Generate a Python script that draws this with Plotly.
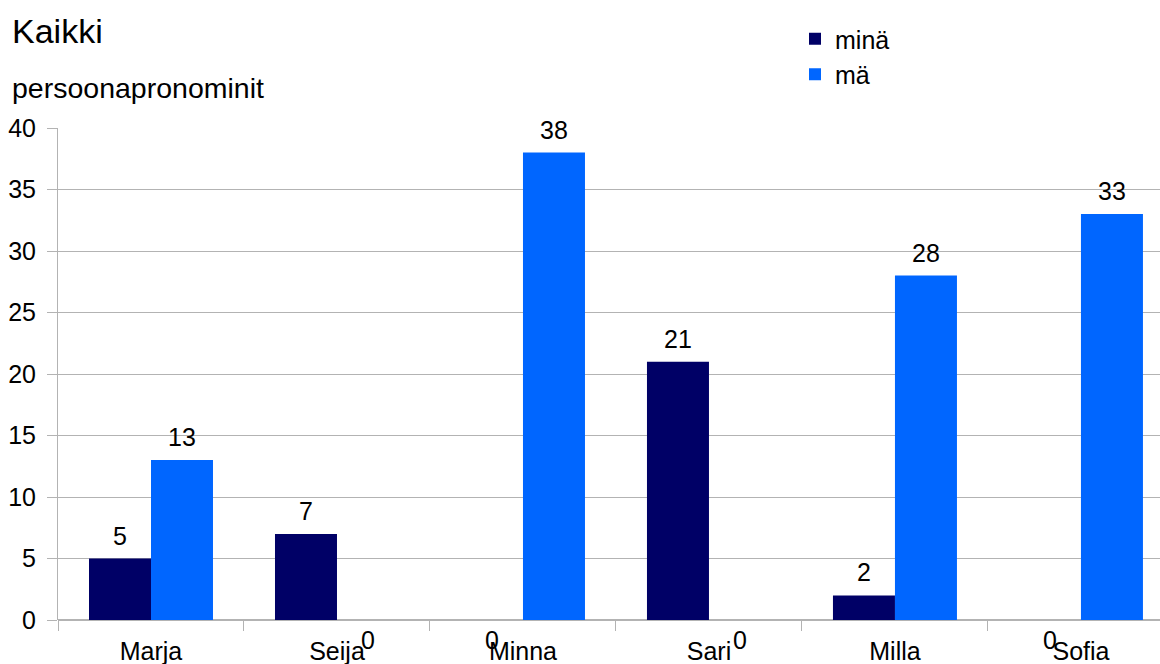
import plotly.graph_objects as go

categories = ["Marja", "Seija", "Minna", "Sari", "Milla", "Sofia"]
mina = [5, 7, 0, 21, 2, 0]
ma = [13, 0, 38, 0, 28, 33]
series_names = ["minä", "mä"]
colors = ["#000066", "#0066ff"]
y_ticks = [0, 5, 10, 15, 20, 25, 30, 35, 40]

FONT = "Liberation Sans, Arial, sans-serif"

fig = go.Figure()
for name, vals, col in zip(series_names, [mina, ma], colors):
    fig.add_trace(go.Bar(x=categories, y=vals, name=name, marker=dict(color=col, line=dict(width=0))))

# value labels (LibreOffice style: zero labels appear below the axis)
for k, vals in enumerate([mina, ma]):
    shift = -31 if k == 0 else 31
    for c, v in zip(categories, vals):
        fig.add_annotation(x=c, y=v, xref="x", yref="y", text=str(v), showarrow=False,
                           xshift=shift, yshift=23 if v > 0 else -20,
                           font=dict(size=25, color="#000000", family=FONT))

fig.update_layout(
    width=1160, height=664,
    margin=dict(l=58, r=0, t=128, b=44, autoexpand=False),
    paper_bgcolor="white", plot_bgcolor="white",
    barmode="group", bargap=1/3, bargroupgap=0,
    font=dict(family=FONT, size=25, color="#000000"),
    showlegend=True,
    legend=dict(xref="container", yref="container", x=795/1160, y=1 - 16/664, xanchor="left", yanchor="top",
                font=dict(size=25), itemsizing="constant", tracegroupgap=0, bgcolor="rgba(0,0,0,0)"),
    xaxis=dict(range=[-0.5, 5.425], showgrid=False, tickson="boundaries", ticks="outside", ticklen=10,
               tickcolor="#b3b3b3", showline=False, zeroline=False, tickfont=dict(size=25),
               ticklabelstandoff=14),
    yaxis=dict(range=[0, 40], tickvals=y_ticks, showgrid=True, gridcolor="#b3b3b3", gridwidth=1,
               ticks="outside", ticklen=10, tickcolor="#b3b3b3", showline=True, linecolor="#b3b3b3",
               zeroline=True, zerolinecolor="#b3b3b3", tickfont=dict(size=25), ticklabelstandoff=6),
)

fig.add_annotation(text="Kaikki", xref="paper", yref="paper", x=-58/1102, y=1 + (128 - 31) / 492,
                   xanchor="left", yanchor="middle", showarrow=False, xshift=10,
                   font=dict(size=34, family=FONT, color="#000000"))
fig.add_annotation(text="persoonapronominit", xref="paper", yref="paper", x=-58/1102, y=1 + (128 - 88) / 492,
                   xanchor="left", yanchor="middle", showarrow=False, xshift=10,
                   font=dict(size=28.5, family=FONT, color="#000000"))

fig.write_html("out.html")
